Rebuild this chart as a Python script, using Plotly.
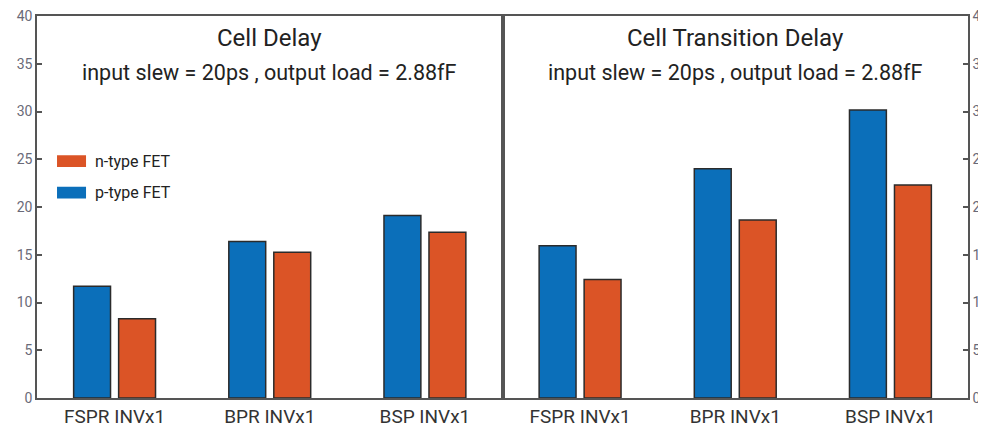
import plotly.graph_objects as go

categories = ["FSPR INVx1", "BPR INVx1", "BSP INVx1"]
delay_p = [11.7, 16.4, 19.1]
delay_n = [8.3, 15.25, 17.35]
trans_p = [15.95, 24.0, 30.15]
trans_n = [12.4, 18.65, 22.3]
y_ticks = [0, 5, 10, 15, 20, 25, 30, 35, 40]

BLUE = "#0B6FBA"
ORANGE = "#DB5426"
EDGE = "#2b2b2b"
AXIS = "#555555"
FONT = "Roboto, Liberation Sans, sans-serif"

fig = go.Figure()
for xa, ya, p, n in [("x", "y", delay_p, delay_n), ("x2", "y2", trans_p, trans_n)]:
    fig.add_trace(go.Bar(x=categories, y=p, name="p-type FET", xaxis=xa, yaxis=ya,
                         marker=dict(color=BLUE, line=dict(color=EDGE, width=1.5)),
                         showlegend=False))
    fig.add_trace(go.Bar(x=categories, y=n, name="n-type FET", xaxis=xa, yaxis=ya,
                         marker=dict(color=ORANGE, line=dict(color=EDGE, width=1.5)),
                         showlegend=False))

xcommon = dict(showline=True, linecolor=AXIS, linewidth=1.5, mirror=True, ticks="",
               tickfont=dict(family=FONT, size=19, color="#333333"), showgrid=False,
               range=[-0.5, 2.5], fixedrange=True, automargin=False)
ycommon = dict(range=[0, 40], tickvals=y_ticks, showline=True, linecolor=AXIS, linewidth=1.5,
               mirror=True, ticks="inside", ticklen=5, tickcolor=AXIS, tickwidth=1.5,
               tickfont=dict(family=FONT, size=14, color="#6a6a78"), showgrid=False,
               zeroline=False, fixedrange=True, automargin=False,
               ticklabeloverflow="allow")

# the page adds an 8px body margin, so the figure is 8px smaller on each axis
fig.update_layout(
    width=978, height=420,
    margin=dict(l=29, r=18, t=8, b=30, autoexpand=False),
    paper_bgcolor="white", plot_bgcolor="white",
    barmode="group", bargap=0.42, bargroupgap=0.18,
    xaxis=dict(domain=[0, 0.5], anchor="y", **xcommon),
    xaxis2=dict(domain=[0.5, 1], anchor="y2", **xcommon),
    yaxis=dict(anchor="x", side="left", **ycommon),
    yaxis2=dict(anchor="x2", side="right", **ycommon),
    font=dict(family=FONT, color="#222222"),
)

# titles
for cx, title in [(0.25, "Cell Delay"), (0.75, "Cell Transition Delay")]:
    fig.add_annotation(x=cx, y=37.7, xref="paper", yref="y", text=title, showarrow=False,
                       xanchor="center", yanchor="middle",
                       font=dict(family=FONT, size=24, color="#222222"))
    fig.add_annotation(x=cx, y=34.1, xref="paper", yref="y",
                       text="input slew = 20ps , output load = 2.88fF", showarrow=False,
                       xanchor="center", yanchor="middle",
                       font=dict(family=FONT, size=21.5, color="#222222"))

# legend (manual)
legend_items = [("n-type FET", ORANGE, 24.8), ("p-type FET", BLUE, 21.5)]
for label, color, yv in legend_items:
    fig.add_shape(type="rect", xref="x", yref="y", x0=-0.371, x1=-0.184,
                  y0=yv - 0.62, y1=yv + 0.62, fillcolor=color, line=dict(width=0))
    fig.add_annotation(x=-0.139, y=yv, xref="x", yref="y", text=label, showarrow=False,
                       xanchor="left", yanchor="middle",
                       font=dict(family=FONT, size=16, color="#222222"))

fig.write_html("out.html")
